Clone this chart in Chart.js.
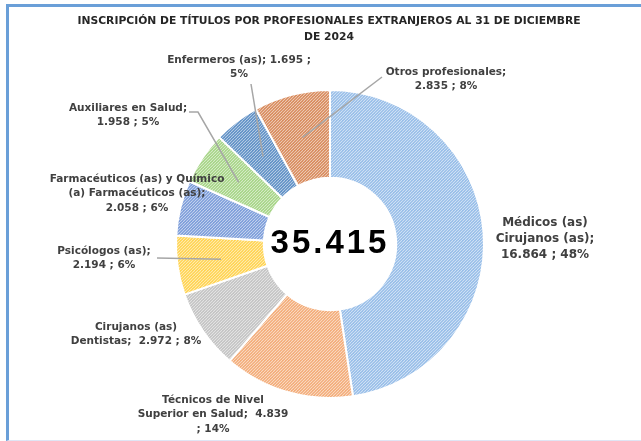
<!DOCTYPE html>
<html>
<head>
<meta charset="utf-8">
<script src="https://cdn.jsdelivr.net/npm/chart.js@4.4.1/dist/chart.umd.min.js"></script>
<style>
  html, body { margin: 0; padding: 0; background: #fff; }
  #wrap { position: relative; width: 641px; height: 441px; overflow: hidden; }
  #frame {
    position: absolute; left: 6px; top: 4px; width: 700px; height: 433px;
    border-top: 3px solid #6a9fd8; border-left: 3px solid #6a9fd8;
    border-bottom: 1px solid #dfe5f4;
  }
  #chart { position: absolute; left: 0; top: 0; }
</style>
</head>
<body>
<div id="wrap">
  <div id="frame"></div>
  <canvas id="chart" width="641" height="441"></canvas>
</div>
<script>
// categorías y valores (orden de las agujas del reloj desde arriba)
const categories = [
  "Médicos (as) Cirujanos (as)",
  "Técnicos de Nivel Superior en Salud",
  "Cirujanos (as) Dentistas",
  "Psicólogos (as)",
  "Farmacéuticos (as) y Químico (a) Farmacéuticos (as)",
  "Auxiliares en Salud",
  "Enfermeros (as)",
  "Otros profesionales"
];
const values = [16864, 4839, 2972, 2194, 2058, 1958, 1695, 2835];
const percents = ["48%", "14%", "8%", "6%", "6%", "5%", "5%", "8%"];

// textos de las etiquetas, como en el original
const labelLines = [
  ["Médicos (as)", "Cirujanos (as);", "16.864 ; 48%"],
  ["Técnicos de Nivel", "Superior en Salud;  4.839", "; 14%"],
  ["Cirujanos (as)", "Dentistas;  2.972 ; 8%"],
  ["Psicólogos (as);", "2.194 ; 6%"],
  ["Farmacéuticos (as) y Químico", "(a) Farmacéuticos (as);", "2.058 ; 6%"],
  ["Auxiliares en Salud;", "1.958 ; 5%"],
  ["Enfermeros (as); 1.695 ;", "5%"],
  ["Otros profesionales;", "2.835 ; 8%"]
];

const title = ["INSCRIPCIÓN DE TÍTULOS POR PROFESIONALES EXTRANJEROS AL 31 DE DICIEMBRE", "DE 2024"];

const baseColors = ["#8db7e6", "#f2a46c", "#bdbdbd", "#ffcf40", "#6f93d6", "#9dd07a", "#4f85c0", "#d47f4c"];

// posición de cada etiqueta (centro x, y de la primera línea) y punto de inicio de la guía
const labelPos = [
  { x: 545, y: 223 },
  { x: 213, y: 400 },
  { x: 136, y: 327 },
  { x: 104, y: 251 },
  { x: 137, y: 179 },
  { x: 128, y: 108 },
  { x: 239, y: 60 },
  { x: 446, y: 72 }
];
const leaders = [
  null,
  null,
  null,
  [[157, 258]],
  null,
  [[189, 112], [198, 112]],
  [[251, 84]],
  [[382, 77]]
];

const total = values.reduce((a, b) => a + b, 0);

function formatNumber(n) {
  return String(n).replace(/\B(?=(\d{3})+(?!\d))/g, ".");
}

// relleno rayado como el de Excel
function hatch(color) {
  const n = 6;
  const c = document.createElement("canvas");
  c.width = n; c.height = n;
  const g = c.getContext("2d");
  g.fillStyle = color;
  g.fillRect(0, 0, n, n);
  g.strokeStyle = "rgba(255,255,255,0.6)";
  g.lineWidth = 1.1;
  for (let k = -2 * n; k <= 2 * n; k += 3) {
    g.beginPath();
    g.moveTo(k, n);
    g.lineTo(k + n, 0);
    g.stroke();
  }
  return g.createPattern(c, "repeat");
}

const labelsPlugin = {
  id: "labelsPlugin",
  afterDraw(chart) {
    const ctx = chart.ctx;
    const meta = chart.getDatasetMeta(0);
    ctx.save();

    // líneas guía
    ctx.strokeStyle = "#a6a6a6";
    ctx.lineWidth = 1.5;
    meta.data.forEach((arc, i) => {
      if (!leaders[i]) return;
      const p = arc.getCenterPoint();
      ctx.beginPath();
      leaders[i].forEach((pt, j) => j === 0 ? ctx.moveTo(pt[0], pt[1]) : ctx.lineTo(pt[0], pt[1]));
      ctx.lineTo(p.x, p.y);
      ctx.stroke();
    });

    // título
    ctx.fillStyle = "#262626";
    ctx.textAlign = "center";
    ctx.textBaseline = "middle";
    ctx.font = "bold 10.75px 'DejaVu Sans'";
    title.forEach((t, i) => ctx.fillText(t, 329, 21 + i * 16));

    // etiquetas
    ctx.fillStyle = "#404040";
    labelLines.forEach((lines, i) => {
      ctx.font = (i === 0 ? "bold 12px" : "bold 10.5px") + " 'DejaVu Sans'";
      const lh = i === 0 ? 16 : 14.5;
      lines.forEach((t, j) => ctx.fillText(t, labelPos[i].x, labelPos[i].y + j * lh));
    });

    // total al centro
    const arc0 = meta.data[0];
    ctx.fillStyle = "#000";
    ctx.font = "bold 33px 'Liberation Sans'";
    ctx.letterSpacing = "3px";
    ctx.fillText(formatNumber(total), arc0.x, arc0.y);
    ctx.restore();
  }
};

const ctx = document.getElementById("chart").getContext("2d");
new Chart(ctx, {
  type: "doughnut",
  data: {
    labels: categories,
    datasets: [{
      data: values,
      backgroundColor: baseColors.map(hatch),
      borderColor: "#ffffff",
      borderWidth: 2
    }]
  },
  options: {
    responsive: false,
    animation: false,
    radius: 154,
    cutout: "43%",
    layout: { padding: { left: 19, right: 0, top: 47, bottom: 0 } },
    plugins: {
      legend: { display: false },
      tooltip: { enabled: false }
    }
  },
  plugins: [labelsPlugin]
});
</script>
</body>
</html>
